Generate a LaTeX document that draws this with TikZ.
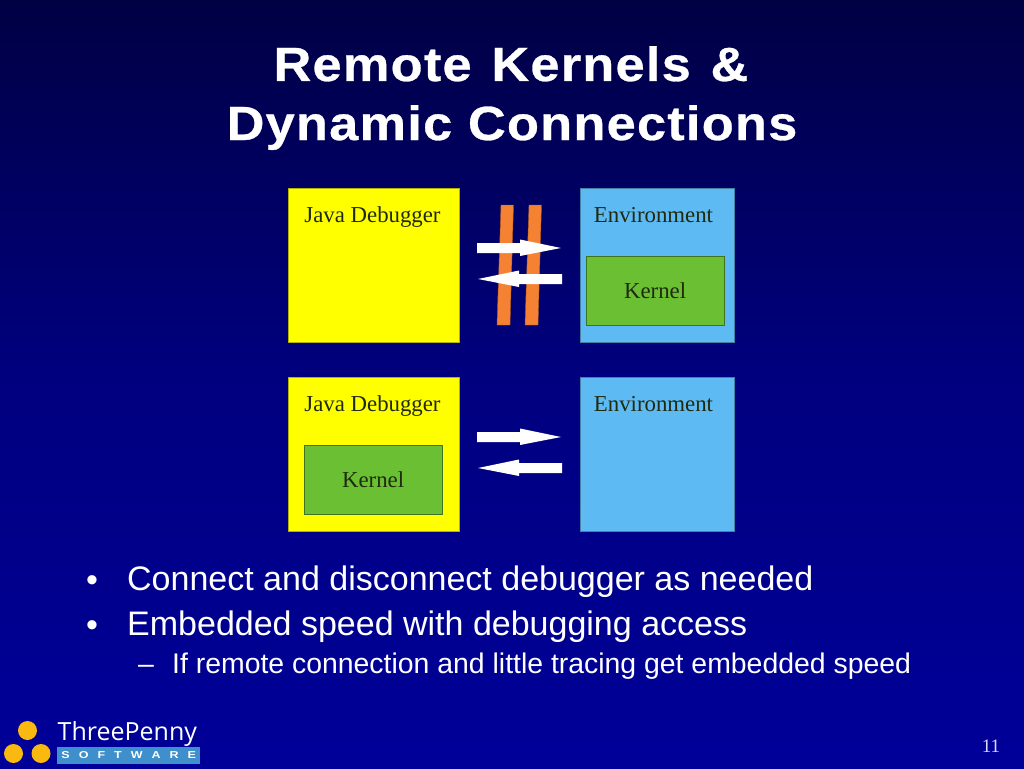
\documentclass[tikz,border=0pt]{standalone}
\usepackage{fontspec}
\setmainfont{Liberation Sans}
\newfontfamily\serifb{Liberation Serif}
\newfontfamily\titlef[FakeStretch=1.09,LetterSpace=2.6,FakeBold=0.6]{Liberation Sans Bold}
\newfontfamily\logof{Open Sans}
\newfontfamily\swf[FakeStretch=1.25]{Liberation Sans Bold}
\usetikzlibrary{calc}
\definecolor{bgtop}{HTML}{000044}
\definecolor{bgbot}{HTML}{000099}
\definecolor{yel}{HTML}{FFFF00}
\definecolor{sky}{HTML}{5EBAF2}
\definecolor{grn}{HTML}{6BBF33}
\definecolor{org}{HTML}{F58232}
\definecolor{penny}{HTML}{F9B90F}
\definecolor{bar}{HTML}{3E8FCB}
\definecolor{boxtxt}{HTML}{1F2A10}
\tikzset{
  panel/.style={draw=#1!70!black,line width=0.8pt,anchor=north west,inner sep=0pt},
  ybox/.style={panel=yel,fill=yel,minimum width=171pt,minimum height=154pt},
  bbox/.style={panel=sky,fill=sky,minimum width=154pt,minimum height=154pt},
  kbox/.style={draw=grn!60!black,line width=0.8pt,fill=grn,minimum width=137.5pt,minimum height=68.5pt,anchor=north west,inner sep=0pt,font=\serifb\fontsize{22.8}{24}\selectfont,text=boxtxt},
  lab/.style={font=\serifb\fontsize{22.8}{24}\selectfont,text=boxtxt,inner sep=0pt,anchor=base},
  ttl/.style={font=\titlef\fontsize{48}{58}\selectfont,text=white,inner sep=0pt,anchor=base},
  bul/.style={font=\fontsize{34}{38}\selectfont,text=white,inner sep=0pt,anchor=base west},
  subb/.style={font=\fontsize{28.4}{32}\selectfont,text=white,inner sep=0pt,anchor=base west},
  blockarrow/.style={fill=white,draw=none},
  bar/.style={fill=org,draw=org!70!black,line width=0.4pt},
  penny/.style={circle,fill=penny,minimum size=19pt,inner sep=0pt}
}
\begin{document}
\begin{tikzpicture}[x=1pt,y=-1pt]
\useasboundingbox (0,0) rectangle (1024,768);
\shade[top color=bgtop,bottom color=bgbot,middle color=bgbot!70!bgtop] (0,0) rectangle (1024,768);
\node[ttl] (t1) at (511,81) {Remote\hspace{4pt} Kernels\hspace{4pt} \&};
\node[ttl] (t2) at (512,140) {Dynamic Connections};
% top row
\node[ybox] (d1) at (287.5,188) {};
\node[bbox] (e1) at (579.5,188) {};
\node[lab] (d1l) at (372.5,222) {Java Debugger};
\node[lab] (e1l) at (653.5,222) {Environment};
\node[kbox] (k1) at (586,256) {Kernel};
\fill[bar,draw=org!70!black] (501,205) -- (513.5,205) -- (510,325) -- (497,325) -- cycle;
\fill[bar,draw=org!70!black] (529,205) -- (541.5,205) -- (538,325) -- (525,325) -- cycle;
\fill[blockarrow] (477,243) -- (520,243) -- (520,239.5) -- (561,248) -- (520,256) -- (520,253) -- (477,253) -- cycle;
\fill[blockarrow] (562,274) -- (519,274) -- (519,270.5) -- (478,279) -- (519,287) -- (519,284) -- (562,284) -- cycle;
% bottom row
\node[ybox] (d2) at (287.5,377) {};
\node[bbox] (e2) at (579.5,377) {};
\node[lab] (d2l) at (372.5,411) {Java Debugger};
\node[lab] (e2l) at (653.5,411) {Environment};
\node[kbox] (k2) at (304,445) {Kernel};
\fill[blockarrow] (477,432) -- (520,432) -- (520,428.5) -- (561,437) -- (520,445) -- (520,442) -- (477,442) -- cycle;
\fill[blockarrow] (562,463) -- (519,463) -- (519,459.5) -- (478,468) -- (519,476) -- (519,473) -- (562,473) -- cycle;
% bullets
\node[bul] (b1s) at (86,591) {•};
\node[bul] (b1) at (127,590) {Connect and disconnect debugger as needed};
\node[bul] (b2s) at (86,636) {•};
\node[bul] (b2) at (127,635) {Embedded speed with debugging access};
\node[subb] (b3s) at (138,673) {–};
\node[subb] (b3) at (172,673) {If remote connection and little tracing get embedded speed};
% logo
\node[penny] (p1) at (27.5,730.5) {};
\node[penny] (p2) at (13.5,753.5) {};
\node[penny] (p3) at (41,753.5) {};
\node[font=\logof\fontsize{25}{30}\selectfont,text=white,inner sep=0pt,anchor=base west] (tp) at (57.5,740) {ThreePenny};
\node[fill=bar,minimum width=143pt,minimum height=17pt,inner sep=0pt,anchor=north west] (sw) at (57,746.5) {};
\node[font=\swf\fontsize{10}{12}\selectfont,text=white,inner sep=0pt] (swt) at (sw.center) {S\hspace{9pt}O\hspace{9pt}F\hspace{9pt}T\hspace{9pt}W\hspace{9pt}A\hspace{9pt}R\hspace{9pt}E};
\node[font=\serifb\fontsize{19}{22}\selectfont,text=white!85!blue,inner sep=0pt,anchor=base] (pg) at (991,752) {11};
\end{tikzpicture}
\end{document}
